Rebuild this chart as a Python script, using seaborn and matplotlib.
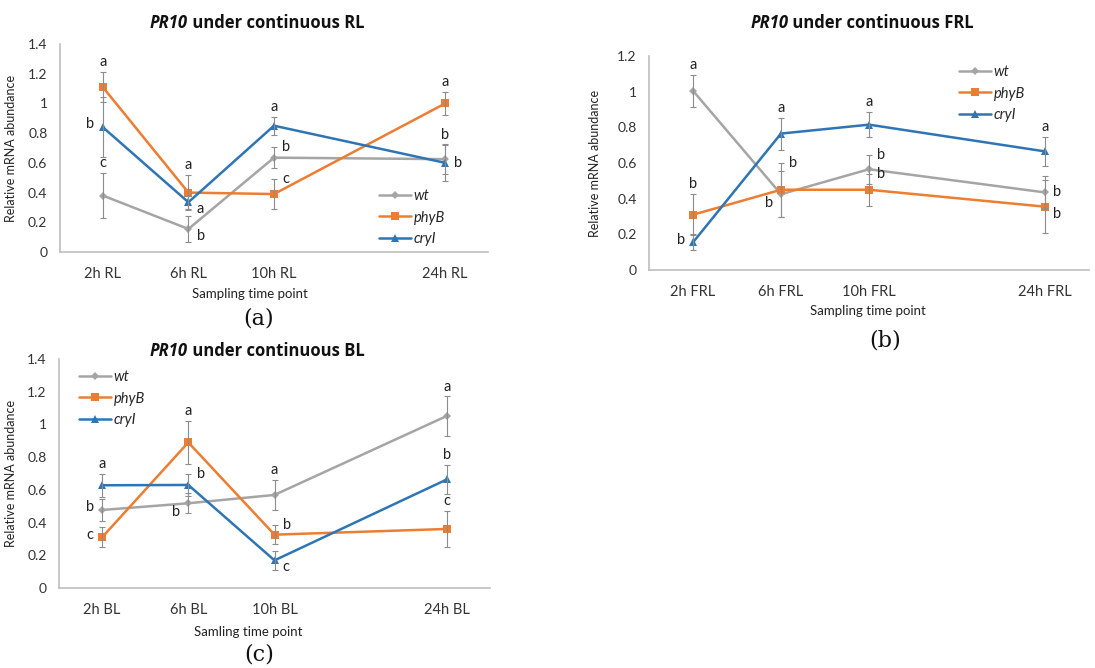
import numpy as np
import pandas as pd
import matplotlib
matplotlib.use("Agg")
import matplotlib.pyplot as plt
import seaborn as sns
from matplotlib.offsetbox import TextArea, HPacker, AnchoredOffsetbox

# =====================================================
# DATA
# =====================================================
genotypes = ["wt", "phyB", "cryI"]
time_slot = [0, 1, 2, 4]   # Excel category slots (24h sits two slots after 10h)

# (a) continuous RL
rl_ticks = ["2h RL", "6h RL", "10h RL", "24h RL"]
rl_wt = [0.38, 0.155, 0.635, 0.625]
rl_phyb = [1.11, 0.40, 0.39, 1.00]
rl_cry = [0.84, 0.335, 0.85, 0.60]
rl_wt_err = [0.15, 0.09, 0.07, 0.10]
rl_phyb_err = [0.10, 0.12, 0.10, 0.08]
rl_cry_err = [0.20, 0.045, 0.06, 0.12]
rl_wt_let = [("c", "up"), ("b", "dr"), ("b", "ur"), ("b", "up")]
rl_phyb_let = [("a", "up"), ("a", "up"), ("c", "ur"), ("a", "up")]
rl_cry_let = [("b", "l"), ("a", "dr"), ("a", "up"), ("b", "r")]

# (b) continuous FRL
frl_ticks = ["2h FRL", "6h FRL", "10h FRL", "24h FRL"]
frl_wt = [1.005, 0.425, 0.565, 0.435]
frl_phyb = [0.31, 0.45, 0.45, 0.355]
frl_cry = [0.155, 0.765, 0.815, 0.665]
frl_wt_err = [0.09, 0.13, 0.08, 0.09]
frl_phyb_err = [0.115, 0.15, 0.09, 0.15]
frl_cry_err = [0.045, 0.09, 0.07, 0.08]
frl_wt_let = [("a", "up"), ("b", "dl"), ("b", "ur"), ("b", "r")]
frl_phyb_let = [("b", "up"), ("b", "ur"), ("b", "ur"), ("b", "dr")]
frl_cry_let = [("b", "l"), ("a", "up"), ("a", "up"), ("a", "up")]

# (c) continuous BL
bl_ticks = ["2h BL", "6h BL", "10h BL", "24h BL"]
bl_wt = [0.477, 0.518, 0.569, 1.052]
bl_phyb = [0.31, 0.89, 0.326, 0.361]
bl_cry = [0.628, 0.63, 0.169, 0.664]
bl_wt_err = [0.07, 0.06, 0.09, 0.12]
bl_phyb_err = [0.06, 0.13, 0.06, 0.11]
bl_cry_err = [0.07, 0.065, 0.06, 0.09]
bl_wt_let = [("b", "l"), ("b", "dl"), ("a", "up"), ("a", "up")]
bl_phyb_let = [("c", "l"), ("a", "up"), ("b", "ur"), ("c", "up")]
bl_cry_let = [("a", "up"), ("b", "ur"), ("c", "dr"), ("b", "up")]

# =====================================================
# STYLE
# =====================================================
sns.set_style("white")
plt.rcParams["font.family"] = ["Lato", "DejaVu Sans"]

palette = {"wt": "#A5A5A5", "phyB": "#ED7D31", "cryI": "#2E75B6"}
markers = {"wt": "D", "phyB": "s", "cryI": "^"}
W, H = 1095, 668

fig = plt.figure(figsize=(W / 100, H / 100), dpi=100)


def fx(px):
    return px / W


def fy(py):
    return 1 - py / H


def make_frame(means, errs, lets):
    rows = []
    for g, m, e, l in zip(genotypes, means, errs, lets):
        for s, v, ev, (txt, pos) in zip(time_slot, m, e, l):
            rows.append({"slot": s, "value": v, "err": ev, "genotype": g,
                         "letter": txt, "pos": pos})
    return pd.DataFrame(rows)


offsets = {"up": (0, 2, "center", "bottom"),
           "ur": (6, 0, "left", "center"),
           "r": (6, 0, "left", "center"),
           "dr": (6, -5, "left", "center"),
           "l": (-6, 2, "right", "center"),
           "dl": (-6, -6, "right", "center")}


def draw_panel(rect, df, ticks, ymax, title_rest, title_xy, xlabel, xlabel_xy,
               tag, tag_xy, ylabel_x, legend_xy):
    ax = fig.add_axes(rect)
    for g in genotypes:
        d = df[df["genotype"] == g]
        ax.errorbar(d["slot"], d["value"], yerr=d["err"], fmt="none",
                    ecolor="#8C8C8C", elinewidth=0.8, capsize=2.5,
                    capthick=0.8, zorder=3)
    sns.lineplot(data=df, x="slot", y="value", hue="genotype", style="genotype",
                 hue_order=genotypes, style_order=genotypes, palette=palette,
                 markers=markers, dashes=False, linewidth=1.8, markersize=5.5,
                 markeredgewidth=0, ax=ax, zorder=2)
    # the grey diamond is drawn a bit smaller in the original
    for ln in ax.get_lines():
        if ln.get_marker() == "D":
            ln.set_markersize(4.5)

    # significance letters
    for _, r in df.iterrows():
        dx, dy, ha, va = offsets[r["pos"]]
        y = r["value"] + r["err"] if r["pos"] in ("up", "ur") else r["value"]
        ax.annotate(r["letter"], (r["slot"], y), xytext=(dx, dy),
                    textcoords="offset points", ha=ha, va=va, fontsize=10.5,
                    color="#222222")

    ax.set_xlim(-0.5, 4.5)
    ax.set_ylim(0, ymax)
    ax.set_yticks(np.arange(0, ymax + 0.01, 0.2))
    ax.set_yticklabels([f"{v:g}" for v in np.arange(0, ymax + 0.01, 0.2)])
    ax.set_xticks(time_slot)
    ax.set_xticklabels(ticks)
    ax.tick_params(axis="x", length=0, pad=11, labelsize=10.5, colors="#333333")
    ax.tick_params(axis="y", length=0, pad=9, labelsize=10, colors="#333333")
    for s in ("top", "right"):
        ax.spines[s].set_visible(False)
    for s in ("left", "bottom"):
        ax.spines[s].set_color("#BFBFBF")
        ax.spines[s].set_linewidth(1.2)
    ax.set_xlabel("")
    ax.set_ylabel("Relative mRNA abundance", fontsize=9, color="#222222")
    ax.yaxis.set_label_coords(ylabel_x, 0.5)

    handles, labels = ax.get_legend_handles_labels()
    ax.legend(handles, labels, loc="upper left", bbox_to_anchor=legend_xy,
              bbox_transform=fig.transFigure, frameon=False, handlelength=2.2,
              handletextpad=0.15, labelspacing=0.5, borderpad=0,
              prop={"style": "italic", "size": 10.5})

    # title: italic gene name + bold rest
    box = HPacker(children=[
        TextArea("PR10", textprops=dict(fontsize=12, fontweight="bold",
                                        fontstyle="italic", family="Open Sans",
                                        color="#111111")),
        TextArea(title_rest, textprops=dict(fontsize=12, fontweight="bold",
                                            family="Open Sans", color="#111111"))],
        align="baseline", pad=0, sep=0)
    anc = AnchoredOffsetbox(loc="center", child=box, frameon=False,
                            bbox_to_anchor=(fx(title_xy[0]), fy(title_xy[1])),
                            bbox_transform=fig.transFigure, borderpad=0, pad=0)
    fig.add_artist(anc)

    fig.text(fx(xlabel_xy[0]), fy(xlabel_xy[1]), xlabel, ha="center",
             va="center", fontsize=9.5, color="#222222")
    fig.text(fx(tag_xy[0]), fy(tag_xy[1]), tag, ha="center", va="center",
             fontsize=16, family="DejaVu Serif", color="#111111")
    return ax


df_rl = make_frame([rl_wt, rl_phyb, rl_cry], [rl_wt_err, rl_phyb_err, rl_cry_err],
                   [rl_wt_let, rl_phyb_let, rl_cry_let])
df_frl = make_frame([frl_wt, frl_phyb, frl_cry], [frl_wt_err, frl_phyb_err, frl_cry_err],
                    [frl_wt_let, frl_phyb_let, frl_cry_let])
df_bl = make_frame([bl_wt, bl_phyb, bl_cry], [bl_wt_err, bl_phyb_err, bl_cry_err],
                   [bl_wt_let, bl_phyb_let, bl_cry_let])

draw_panel([fx(60), fy(252), fx(488) - fx(60), fy(44) - fy(252)], df_rl, rl_ticks,
           1.4, " under continuous RL", (257, 23), "Sampling time point", (250, 294),
           "(a)", (259, 318), -43 / 428, (fx(372), fy(182)))
draw_panel([fx(649), fy(270), fx(1089) - fx(649), fy(56) - fy(270)], df_frl, frl_ticks,
           1.2, " under continuous FRL", (862, 23), "Sampling time point", (868, 311),
           "(b)", (885, 340), -48 / 440, (fx(952), fy(58)))
draw_panel([fx(59), fy(588), fx(490) - fx(59), fy(359) - fy(588)], df_bl, bl_ticks,
           1.4, " under continuous BL", (257, 351), "Samling time point", (248, 632),
           "(c)", (259, 655), -42 / 431, (fx(72), fy(363)))

fig.savefig("out.png", dpi=100)
